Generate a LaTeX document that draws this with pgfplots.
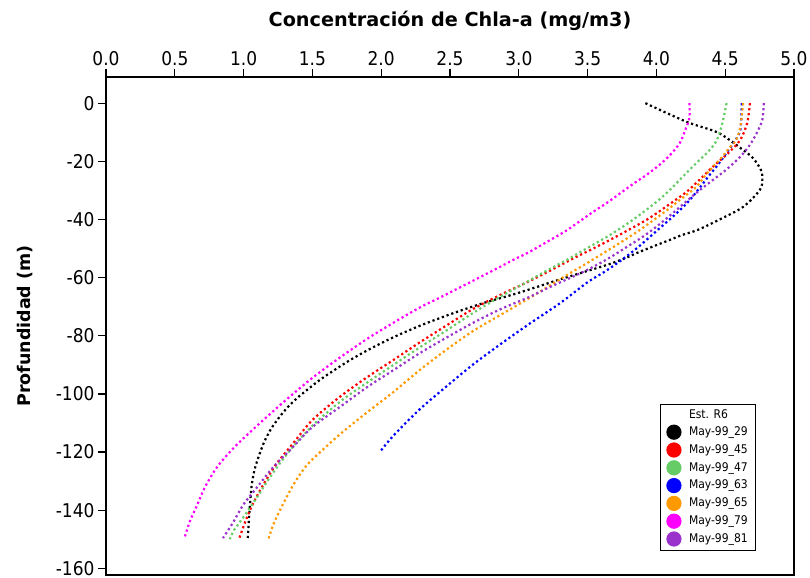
\documentclass[border=0pt]{standalone}
\usepackage{pgfplots}
\pgfplotsset{compat=1.18}
\usepackage{fontspec}
\setmainfont{DejaVu Sans Condensed}
\newfontfamily\titlefont{DejaVu Sans}
\definecolor{cgreen}{RGB}{102,204,102}
\definecolor{corange}{RGB}{255,153,0}
\definecolor{cpurple}{RGB}{153,51,204}
\definecolor{cmagenta}{RGB}{255,0,255}
\definecolor{cred}{RGB}{255,0,0}
\definecolor{cblue}{RGB}{0,0,255}
\begin{document}
\begin{tikzpicture}
\begin{axis}[
  scale only axis, width=688bp, height=498bp,
  xmin=0, xmax=5, ymin=-162.3, ymax=9,
  axis line style={line width=1.3bp},
  xtick={0,0.5,1,1.5,2,2.5,3,3.5,4,4.5,5},
  xticklabels={0.0,0.5,1.0,1.5,2.0,2.5,3.0,3.5,4.0,4.5,5.0},
  ytick={0,-20,-40,-60,-80,-100,-120,-140,-160},
  yticklabels={0,-20,-40,-60,-80,-100,-120,-140,-160},
  xtick pos=right, xticklabel pos=right,
  ytick pos=left,
  tick align=outside,
  major tick length=8bp,
  tick style={line width=1.3bp, black},
  ticklabel style={font=\fontsize{19}{22}\selectfont},
  yticklabel style={inner ysep=0bp},
  xlabel={Concentración de Chla-a (mg/m3)},
  xlabel style={font=\titlefont\bfseries\fontsize{19.3}{22}\selectfont,
    at={(axis description cs:0.5,1)}, anchor=base, yshift=50bp},
  ylabel={Profundidad (m)},
  ylabel style={font=\titlefont\bfseries\fontsize{17.5}{21}\selectfont,
    at={(axis description cs:-0.1177,0.5)}, anchor=center},
  every axis plot/.append style={line width=2.2bp, dash pattern=on 2.2bp off 2.8bp},
  legend style={at={(0.805,0.048)}, anchor=south west, draw=black, line width=1bp,
    font=\fontsize{12}{14}\selectfont, row sep=2.6bp, column sep=5.5bp,
    inner xsep=6bp, inner ysep=4bp,
    nodes={inner xsep=2bp, inner ysep=1bp, text height=9bp, text depth=2.5bp}},
  legend cell align=left,
  legend image code/.code={\fill[#1, solid] (0bp,0bp) circle (6.5bp);},
]
\addlegendimage{empty legend}
\addlegendentry{Est. R6}
\addplot[black, smooth] coordinates {(3.92,0) (4.08,-3.5) (4.24,-6.8) (4.45,-10.2) (4.61,-15.4) (4.70,-18.8) (4.76,-23) (4.77,-26.5) (4.75,-30) (4.63,-35.7) (4.46,-40) (4.30,-43.6) (4.19,-45.3) (4.10,-47) (3.97,-49.4) (3.86,-51.5) (3.77,-53.4) (3.65,-55.5) (3.50,-57.7) (3.30,-60.6) (3.12,-63.4) (2.96,-65.8) (2.74,-68.8) (2.52,-72.3) (2.29,-76.4) (2.09,-80.5) (1.92,-84.5) (1.78,-88.2) (1.66,-91.8) (1.56,-95) (1.47,-98.3) (1.39,-101.4) (1.32,-104.6) (1.26,-108) (1.20,-112) (1.15,-116.5) (1.11,-121.5) (1.08,-126) (1.06,-131) (1.05,-136) (1.04,-142.3) (1.03,-150)};
\addlegendentry{May-99\_29}
\addplot[cred, smooth] coordinates {(4.68,0) (4.66,-6.8) (4.61,-12.6) (4.53,-16.8) (4.41,-21.9) (4.31,-26.5) (4.22,-30.5) (4.10,-34.6) (3.95,-39.5) (3.79,-43.8) (3.64,-47.6) (3.52,-50.5) (3.40,-53.3) (3.28,-56.3) (3.15,-59.5) (3.02,-62.5) (2.85,-66.3) (2.66,-71) (2.48,-76.3) (2.28,-82.3) (2.09,-88.3) (1.90,-94.2) (1.70,-101) (1.50,-109) (1.36,-117) (1.24,-124) (1.14,-131.5) (1.07,-137.6) (1.02,-143) (0.97,-149.5)};
\addlegendentry{May-99\_45}
\addplot[cgreen, smooth] coordinates {(4.51,0) (4.48,-6.8) (4.44,-12.6) (4.38,-16.5) (4.29,-20.6) (4.21,-24.4) (4.12,-28.8) (4.03,-32.8) (3.93,-36.6) (3.83,-40.1) (3.74,-43) (3.64,-46) (3.54,-48.7) (3.44,-51.4) (3.35,-53.9) (3.25,-56.4) (3.15,-59) (3.04,-62) (2.86,-66.7) (2.67,-72.1) (2.48,-78) (2.28,-84) (2.09,-90) (1.92,-95.4) (1.72,-102) (1.53,-109.6) (1.38,-117) (1.27,-123.5) (1.18,-129.5) (1.10,-135.4) (1.0,-142.3) (0.93,-146.9) (0.90,-150)};
\addlegendentry{May-99\_47}
\addplot[cblue, smooth] coordinates {(4.62,0) (4.61,-9.2) (4.56,-13.7) (4.51,-17.1) (4.45,-21) (4.37,-25.7) (4.30,-30) (4.22,-34.5) (4.12,-39) (4.00,-44) (3.88,-49) (3.76,-53.5) (3.63,-57.8) (3.50,-61.6) (3.30,-68.8) (3.08,-75.8) (2.87,-82.8) (2.67,-89.8) (2.48,-97.2) (2.28,-105.3) (2.09,-114.3) (1.99,-120)};
\addlegendentry{May-99\_63}
\addplot[corange, smooth] coordinates {(4.63,0) (4.61,-8.1) (4.58,-12.6) (4.53,-15.4) (4.46,-19.5) (4.37,-24) (4.29,-28.8) (4.17,-33.3) (4.08,-36.7) (3.98,-40.2) (3.88,-43.6) (3.79,-46.4) (3.69,-49.4) (3.60,-52) (3.49,-55.2) (3.35,-59.1) (3.20,-63.5) (3.06,-67.5) (2.88,-72.5) (2.67,-78.3) (2.48,-84.6) (2.28,-91.8) (2.09,-99.3) (1.88,-107) (1.71,-113.5) (1.58,-119) (1.46,-124.5) (1.37,-130.6) (1.29,-137.6) (1.22,-144.5) (1.18,-150)};
\addlegendentry{May-99\_65}
\addplot[cmagenta, smooth] coordinates {(4.24,0) (4.24,-5) (4.21,-9.2) (4.17,-13.7) (4.10,-17.8) (4.02,-21.3) (3.93,-24.6) (3.83,-27.8) (3.74,-30.9) (3.64,-34.3) (3.54,-37.4) (3.44,-40.7) (3.35,-43.7) (3.25,-46.5) (3.15,-49.2) (3.06,-51.6) (2.96,-53.9) (2.86,-56.4) (2.72,-59.8) (2.58,-63.2) (2.43,-66.8) (2.28,-70.3) (2.09,-75.5) (1.90,-81) (1.70,-87.5) (1.50,-94.5) (1.31,-102) (1.12,-110) (0.94,-118) (0.81,-125) (0.72,-132) (0.66,-138.5) (0.61,-143.8) (0.57,-149.6)};
\addlegendentry{May-99\_79}
\addplot[cpurple, smooth] coordinates {(4.78,0) (4.77,-5.7) (4.73,-10.2) (4.68,-14.3) (4.61,-18.4) (4.51,-22.8) (4.40,-26.8) (4.30,-30.5) (4.20,-34.5) (4.10,-38.6) (4.00,-42.5) (3.90,-46) (3.80,-49) (3.70,-52) (3.60,-54.8) (3.47,-58) (3.35,-60.6) (3.21,-63.6) (3.08,-66.6) (2.87,-70.8) (2.67,-75.5) (2.48,-80.5) (2.28,-86) (2.09,-91.8) (1.90,-97.6) (1.70,-104.5) (1.50,-111.4) (1.36,-118.2) (1.21,-125.5) (1.10,-132) (1.0,-138) (0.92,-144.5) (0.85,-149.6)};
\addlegendentry{May-99\_81}
\end{axis}
\pgfresetboundingbox
\path[use as bounding box] (-106bp,-3bp) rectangle (704bp,575bp);
\end{tikzpicture}
\end{document}
